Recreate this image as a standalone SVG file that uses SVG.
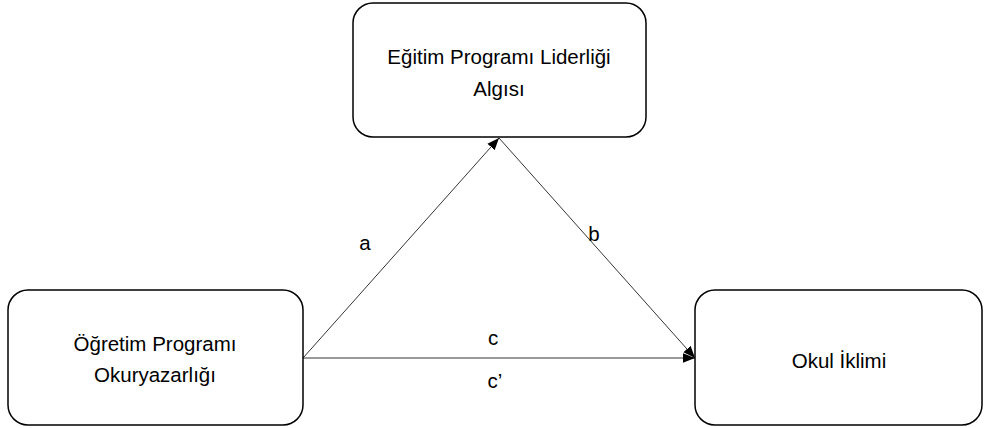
<svg xmlns="http://www.w3.org/2000/svg" width="984" height="428" viewBox="0 0 984 428">
<style>
.box{fill:#fff;stroke:#000;stroke-width:1.5}
.t{font-family:"Liberation Sans",Arial,sans-serif;font-size:20.5px;fill:#000;text-anchor:middle}
.e{stroke:#000;stroke-width:0.8;fill:none;marker-end:url(#ah)}
</style>
<defs>
<marker id="ah" viewBox="0 0 10 10" refX="10" refY="5" markerWidth="12" markerHeight="12" markerUnits="userSpaceOnUse" orient="auto">
<path d="M0,1 L10,5 L0,9 z" fill="#000"/>
</marker>
</defs>
<rect width="984" height="428" fill="#fff"/>
<g id="edges">
<line class="e" x1="303" y1="358" x2="499" y2="138"/>
<line class="e" x1="499" y1="138" x2="695" y2="358"/>
<line class="e" x1="303" y1="358" x2="695" y2="358"/>
<text class="t" x="365" y="250">a</text>
<text class="t" x="594" y="241">b</text>
<text class="t" x="493" y="345">c</text>
<text class="t" x="495" y="388">c’</text>
</g>
<g id="n1">
<rect class="box" x="353" y="3" width="293" height="134" rx="20"/>
<text class="t" x="499" y="64">Eğitim Programı Liderliği</text>
<text class="t" x="499" y="96">Algısı</text>
</g>
<g id="n2">
<rect class="box" x="8" y="290" width="295" height="135" rx="20"/>
<text class="t" x="155" y="351">Öğretim Programı</text>
<text class="t" x="155" y="382">Okuryazarlığı</text>
</g>
<g id="n3">
<rect class="box" x="695" y="290" width="287" height="135" rx="20"/>
<text class="t" x="839" y="368">Okul İklimi</text>
</g>
</svg>
